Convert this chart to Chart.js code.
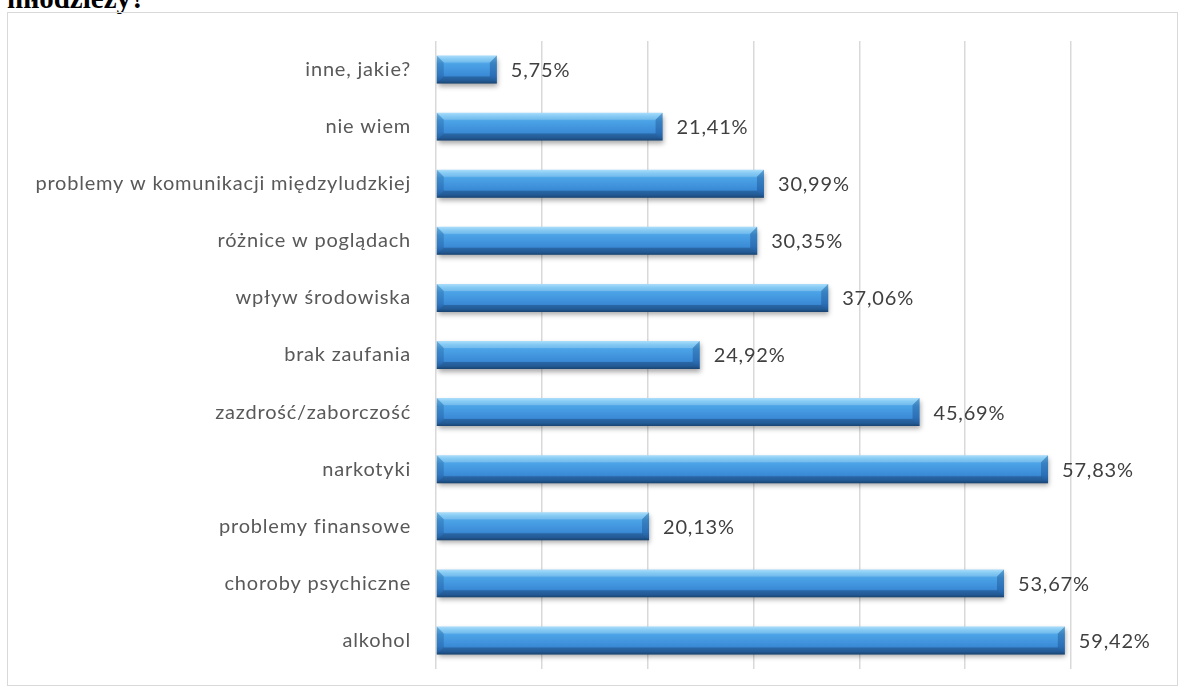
<!DOCTYPE html>
<html>
<head>
<meta charset="utf-8">
<script src="https://cdn.jsdelivr.net/npm/chart.js@4.4.1/dist/chart.umd.min.js"></script>
<style>
    html, body { margin: 0; padding: 0; background: #fff; overflow: hidden; }
    body { width: 1192px; height: 689px; position: relative; }
    #title {
        position: absolute; left: 7px; top: -16px;
        font: bold 29px "Liberation Serif", "DejaVu Serif", serif;
        line-height: 29px; color: #000; white-space: nowrap;
    }
    #box {
        position: absolute; left: 7px; top: 12px;
        width: 1169px; height: 672px;
        border: 1px solid #d9d9d9;
    }
    #chart { display: block; }
</style>
</head>
<body>
<div id="title">młodzieży?</div>
<div id="box"><canvas id="chart" width="1169" height="672"></canvas></div>

<script>
// ============================================================
// Dane
// ============================================================

const categories = [
    "inne, jakie?",
    "nie wiem",
    "problemy w komunikacji międzyludzkiej",
    "różnice w poglądach",
    "wpływ środowiska",
    "brak zaufania",
    "zazdrość/zaborczość",
    "narkotyki",
    "problemy finansowe",
    "choroby psychiczne",
    "alkohol"
];

const values = [5.75, 21.41, 30.99, 30.35, 37.06, 24.92, 45.69, 57.83, 20.13, 53.67, 59.42];

const axisMin = 0;
const axisMax = 60;
const axisStep = 10;

const BAR_PCT = 0.49;
const FONT = 'Lato, "Open Sans", sans-serif';

// ============================================================
// Gradient dla słupków (efekt 3D)
// ============================================================

function barGradient(context) {
    const chart = context.chart;
    const area = chart.chartArea;
    if (!area) return "#4a9fe3";
    const yc = chart.scales.y.getPixelForValue(context.dataIndex);
    const h = (area.height / categories.length) * BAR_PCT;
    const g = chart.ctx.createLinearGradient(0, yc - h / 2, 0, yc + h / 2);
    g.addColorStop(0, "#9ad6fa");
    g.addColorStop(0.12, "#6cc0f2");
    g.addColorStop(0.3, "#4ba3e6");
    g.addColorStop(0.7, "#3b8bd7");
    g.addColorStop(0.9, "#2e70b3");
    g.addColorStop(1, "#21507f");
    return g;
}

// ============================================================
// Plugin: cień, fazowanie krawędzi, etykiety wartości
// ============================================================

const bevelPlugin = {
    id: "bevel",
    beforeDraw(chart) {
        chart.ctx.letterSpacing = "0.8px";
    },
    beforeDatasetsDraw(chart) {
        const c = chart.ctx;
        c.save();
        c.shadowColor = "rgba(0,0,0,0.35)";
        c.shadowBlur = 5;
        c.shadowOffsetX = 1;
        c.shadowOffsetY = 3;
    },
    afterDatasetsDraw(chart) {
        const c = chart.ctx;
        c.restore();
        const meta = chart.getDatasetMeta(0);
        meta.data.forEach((bar, i) => {
            const x0 = bar.base, x1 = bar.x;
            const y0 = bar.y - bar.height / 2, y1 = bar.y + bar.height / 2;
            const b = 7;
            // górna krawędź
            c.fillStyle = "rgba(255,255,255,0.18)";
            c.beginPath();
            c.moveTo(x0, y0); c.lineTo(x1, y0); c.lineTo(x1 - b, y0 + b); c.lineTo(x0 + b, y0 + b);
            c.closePath(); c.fill();
            // dolna krawędź
            c.fillStyle = "rgba(10,40,80,0.3)";
            c.beginPath();
            c.moveTo(x0, y1); c.lineTo(x1, y1); c.lineTo(x1 - b, y1 - b); c.lineTo(x0 + b, y1 - b);
            c.closePath(); c.fill();
            // lewa krawędź
            c.fillStyle = "rgba(10,50,110,0.22)";
            c.beginPath();
            c.moveTo(x0, y0); c.lineTo(x0 + b, y0 + b); c.lineTo(x0 + b, y1 - b); c.lineTo(x0, y1);
            c.closePath(); c.fill();
            // prawa krawędź
            c.fillStyle = "rgba(10,50,110,0.3)";
            c.beginPath();
            c.moveTo(x1, y0); c.lineTo(x1 - b, y0 + b); c.lineTo(x1 - b, y1 - b); c.lineTo(x1, y1);
            c.closePath(); c.fill();

            // etykieta wartości
            c.fillStyle = "#404040";
            c.font = "20px " + FONT;
            c.textAlign = "left";
            c.textBaseline = "middle";
            c.fillText(values[i].toFixed(2).replace(".", ",") + "%", x1 + 14, bar.y + 1);
        });
    }
};

// ============================================================
// Wykres
// ============================================================

const ctx = document.getElementById("chart").getContext("2d");

new Chart(ctx, {
    type: "bar",
    data: {
        labels: categories,
        datasets: [{
            data: values,
            backgroundColor: barGradient,
            borderWidth: 0,
            categoryPercentage: 1,
            barPercentage: BAR_PCT
        }]
    },
    options: {
        indexAxis: "y",
        responsive: false,
        animation: false,
        layout: { padding: { left: 0, right: 106, top: 28, bottom: 16 } },
        plugins: {
            legend: { display: false },
            tooltip: { enabled: false }
        },
        scales: {
            x: {
                min: axisMin,
                max: axisMax,
                ticks: { display: false, stepSize: axisStep },
                grid: { color: "#d9d9d9", lineWidth: 1.5, drawTicks: false },
                border: { display: false },
                afterFit(scale) { scale.height = 0; }
            },
            y: {
                grid: { display: false },
                border: { display: false },
                ticks: {
                    color: "#595959",
                    padding: 17,
                    font: { family: FONT, size: 20 }
                },
                afterFit(scale) {
                    scale.width = 428;
                    scale.paddingTop = 0;
                    scale.paddingBottom = 0;
                }
            }
        }
    },
    plugins: [bevelPlugin]
});
</script>
</body>
</html>
